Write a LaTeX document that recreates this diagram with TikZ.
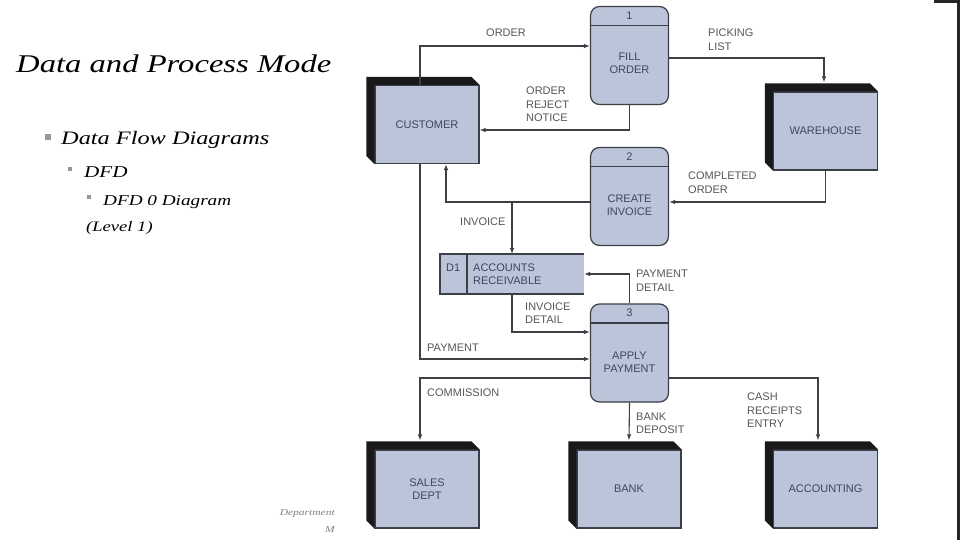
\documentclass[tikz,border=0pt]{standalone}
\usepackage{fontspec}
\setmainfont{Liberation Serif}
\newfontfamily\slidefont[FakeStretch=1.28]{Liberation Serif}
\newfontfamily\dfdfont{Liberation Sans}
\usetikzlibrary{arrows.meta}
\definecolor{boxfill}{RGB}{188,196,218}
\definecolor{boxline}{RGB}{60,62,72}
\definecolor{boxtext}{RGB}{62,70,94}
\definecolor{flowline}{RGB}{64,64,68}
\definecolor{flowtext}{RGB}{85,85,92}
\definecolor{bulletgray}{RGB}{150,150,150}

\begin{document}
\begin{tikzpicture}[x=1pt, y=-1pt,
  entity/.style={draw=boxline, line width=1.2pt, fill=boxfill, minimum width=104pt,
    minimum height=78pt, inner sep=0pt, align=center, text=boxtext,
    font={\dfdfont\fontsize{11}{13}\selectfont}},
  process/.style={draw=boxline, line width=1.2pt, fill=boxfill, rounded corners=9pt,
    minimum width=78pt, minimum height=98pt, inner sep=0pt},
  ptext/.style={align=center, text=boxtext, inner sep=0pt,
    font={\dfdfont\fontsize{11}{13}\selectfont}},
  store/.style={fill=boxfill, minimum width=144pt, minimum height=40pt, inner sep=0pt, outer sep=0pt},
  flow/.style={draw=flowline, line width=1.1pt, -{Latex[length=6pt,width=4.5pt]}},
  lbl/.style={anchor=west, align=left, text=flowtext, inner sep=0pt,
    font={\dfdfont\fontsize{11}{13.5}\selectfont}},
  bul/.style={fill=bulletgray, inner sep=0pt},
  slide/.style={anchor=base west, inner sep=0pt}]
\useasboundingbox (0,0) rectangle (960,540);
% slide text
\node[slide, font={\slidefont\itshape\fontsize{25.5}{30}\selectfont}] (title) at (16,73) {Data and Process Mode};
\node[bul, minimum size=6pt] (bul1) at (48,137) {};
\node[slide, font={\slidefont\itshape\fontsize{19}{23}\selectfont}] (lvl1) at (61,145) {Data Flow Diagrams};
\node[bul, minimum size=4.5pt] (bul2) at (70,169) {};
\node[slide, font={\slidefont\itshape\fontsize{16.5}{20}\selectfont}] (lvl2) at (84,178) {DFD};
\node[bul, minimum size=4pt] (bul3) at (89,197) {};
\node[slide, font={\slidefont\itshape\fontsize{15}{18}\selectfont}] (lvl3) at (103,205) {DFD 0 Diagram};
\node[slide, font={\slidefont\itshape\fontsize{14.5}{18}\selectfont}] (lvl3b) at (86,231) {(Level 1)};
\node[anchor=north east, align=right, inner sep=0pt, text=black!50,
  font={\slidefont\itshape\fontsize{9}{17}\selectfont}] (foot) at (335,509) {Department\\M};
% right edge of the slide
\fill[black!85] (957,0) rectangle (960,540);
\fill[black!85] (934,0) rectangle (960,3);
%
% external entities
\node[entity] (cust)  at (427,124.5) {CUSTOMER};
\node[entity] (ware)  at (825.5,131) {WAREHOUSE};
\node[entity] (sales) at (427,489)   {SALES\\DEPT};
\node[entity] (bank)  at (629,489)   {BANK};
\node[entity] (acct)  at (825.5,489) {ACCOUNTING};
\foreach \e in {cust,ware,sales,bank,acct}{
\fill[black!90] ([shift={(-8,-8)}]\e.north west) -- ([shift={(-8,-8)}]\e.north east)
  -- (\e.north east) -- (\e.north west) -- (\e.south west)
  -- ([shift={(-8,-8)}]\e.south west) -- cycle;
}
%
% processes
\node[process] (fill) at (629.5,55.5) {};
\node[process] (inv)  at (629.5,196.5) {};
\node[process] (pay)  at (629.5,353) {};
\node[ptext] (fill-t) at ([yshift=-8pt]fill.center) {FILL\\ORDER};
\node[ptext] (inv-t)  at ([yshift=-8.5pt]inv.center) {CREATE\\INVOICE};
\node[ptext] (pay-t)  at ([yshift=-9pt]pay.center) {APPLY\\PAYMENT};
\foreach \p/\n in {fill/1,inv/2,pay/3}{
\draw[boxline, line width=1.2pt] ([yshift=-19.5pt]\p.north west) -- ([yshift=-19.5pt]\p.north east);
\node[ptext] (\p-num) at ([yshift=-9.5pt]\p.north) {\n};
}
%
% data store
\node[store] (store) at (512,274) {};
\draw[boxline, line width=1.2pt] (store.north east) -- (store.north west) -- (store.south west) -- (store.south east);
\draw[boxline, line width=1.2pt] ([xshift=27pt]store.north west) -- ([xshift=27pt]store.south west);
\node[ptext, anchor=west] (store-id) at ([xshift=6pt,yshift=6.5pt]store.west) {D1};
\node[ptext, anchor=west, align=left] (store-name) at ([xshift=33pt]store.west) {ACCOUNTS\\RECEIVABLE};
%
% data flows
\draw[flow] ([xshift=-7pt]cust.north) |- ([yshift=9.5pt]fill.west);
\draw[flow] (fill.south) |- ([yshift=-5.5pt]cust.east);
\draw[flow] ([yshift=-2.5pt]fill.east) -| ([xshift=-1.5pt,yshift=9pt]ware.north);
\draw[flow] (ware.south) |- ([yshift=-5.5pt]inv.east);
\coordinate (inv-out) at ([yshift=-5.5pt]inv.west);
\draw[flow] (inv-out) -| ([xshift=19pt]cust.south);
\draw[flow] (store.north |- inv-out) -- (store.north);
\draw[flow] (pay.north) |- (store.east);
\draw[flow] (store.south) |- ([yshift=21pt]pay.west);
\draw[flow] ([xshift=-7pt]cust.south) |- ([yshift=-6pt]pay.west);
\draw[flow] ([yshift=-25pt]pay.west) -| ([xshift=-7pt,yshift=9pt]sales.north);
\draw[flow] (pay.south) -- ([yshift=9pt]bank.north);
\draw[flow] ([yshift=-25pt]pay.east) -| ([xshift=-7.5pt,yshift=9pt]acct.north);
%
% flow labels
\node[lbl] (l-order)    at (486,33)    {ORDER};
\node[lbl] (l-reject)   at (526,104.5) {ORDER\\REJECT\\NOTICE};
\node[lbl] (l-picking)  at (708,39.5)  {PICKING\\LIST};
\node[lbl] (l-complete) at (688,182.5) {COMPLETED\\ORDER};
\node[lbl] (l-invoice)  at (460,222)   {INVOICE};
\node[lbl] (l-paydet)   at (636,280.5) {PAYMENT\\DETAIL};
\node[lbl] (l-invdet)   at (525,313)   {INVOICE\\DETAIL};
\node[lbl] (l-payment)  at (427,348)   {PAYMENT};
\node[lbl] (l-comm)     at (427,393)   {COMMISSION};
\node[lbl] (l-deposit)  at (636,423.5) {BANK\\DEPOSIT};
\node[lbl] (l-cash)     at (747,410.5) {CASH\\RECEIPTS\\ENTRY};
\end{tikzpicture}
\end{document}
